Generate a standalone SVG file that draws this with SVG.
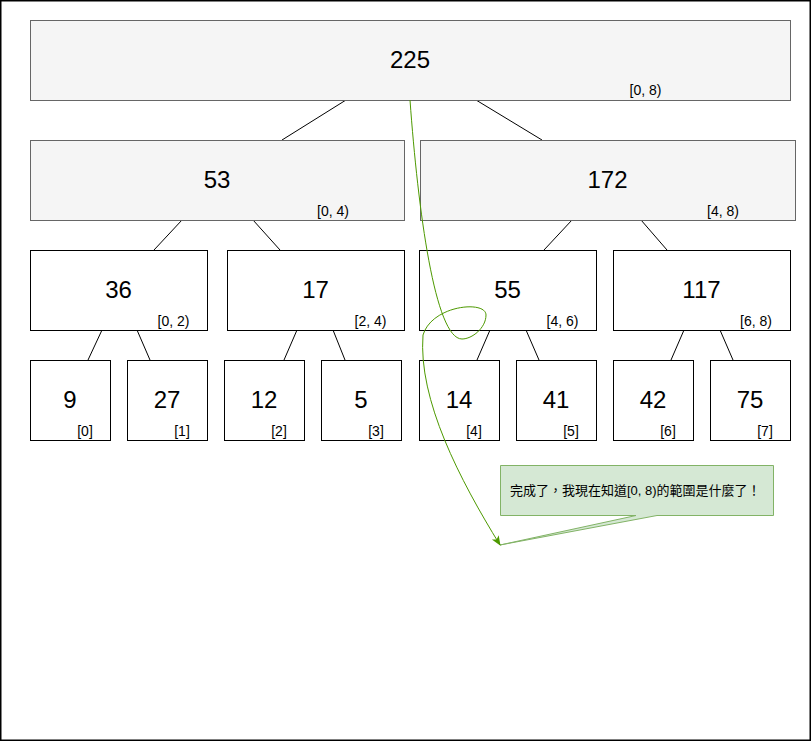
<svg xmlns="http://www.w3.org/2000/svg" width="811" height="741" viewBox="0 0 811 741">
<style>
.gray{fill:#f5f5f5;stroke:#666666;stroke-width:1}
.white{fill:#ffffff;stroke:#000000;stroke-width:1}
.num{font-family:"Liberation Sans",Arial,sans-serif;font-size:24px;fill:#000;text-anchor:middle}
.rng{font-family:"Liberation Sans",Arial,sans-serif;font-size:14px;fill:#000;text-anchor:middle}
.edge{stroke:#000;stroke-width:1;fill:none}
.note{font-family:"Liberation Sans","Noto Sans CJK TC",sans-serif;font-size:13px;fill:#000}
</style>
<defs>
<marker id="arr" viewBox="0 0 10 10" refX="9" refY="5" markerWidth="10" markerHeight="10" markerUnits="userSpaceOnUse" orient="auto">
<path d="M0,1 L10,5 L0,9 L2.5,5 Z" fill="#4d9900"/>
</marker>
</defs>
<rect x="0.75" y="0.75" width="809.5" height="739.5" fill="#ffffff" stroke="#000" stroke-width="1.5"/>
<g id="connectors">
<line class="edge" x1="346" y1="100" x2="282" y2="140"/>
<line class="edge" x1="476" y1="100" x2="542" y2="140"/>
<line class="edge" x1="182" y1="220" x2="154" y2="250"/>
<line class="edge" x1="253" y1="220" x2="280" y2="250"/>
<line class="edge" x1="572" y1="220" x2="544" y2="250"/>
<line class="edge" x1="641" y1="220" x2="667" y2="250"/>
<line class="edge" x1="102" y1="330" x2="88" y2="360"/>
<line class="edge" x1="137" y1="330" x2="150" y2="360"/>
<line class="edge" x1="297" y1="330" x2="284" y2="360"/>
<line class="edge" x1="333" y1="330" x2="345" y2="360"/>
<line class="edge" x1="490" y1="330" x2="477" y2="360"/>
<line class="edge" x1="526" y1="330" x2="539" y2="360"/>
<line class="edge" x1="684" y1="330" x2="671" y2="360"/>
<line class="edge" x1="720" y1="330" x2="733" y2="360"/>
</g>
<g id="n225"><rect class="gray" x="30.5" y="20.5" width="760" height="80"/><text class="num" x="410" y="68">225</text><text class="rng" x="645.5" y="95">[0, 8)</text></g>
<g id="n53"><rect class="gray" x="30.5" y="140.5" width="374" height="80"/><text class="num" x="217" y="188">53</text><text class="rng" x="333" y="216">[0, 4)</text></g>
<g id="n172"><rect class="gray" x="420.5" y="140.5" width="375" height="80"/><text class="num" x="607.5" y="188">172</text><text class="rng" x="723" y="216">[4, 8)</text></g>
<g id="n36"><rect class="white" x="30.5" y="250.5" width="177" height="80"/><text class="num" x="118.5" y="298">36</text><text class="rng" x="173.5" y="326">[0, 2)</text></g>
<g id="n17"><rect class="white" x="227.5" y="250.5" width="177" height="80"/><text class="num" x="315.5" y="298">17</text><text class="rng" x="370.5" y="326">[2, 4)</text></g>
<g id="n55"><rect class="white" x="419.5" y="250.5" width="177" height="80"/><text class="num" x="507.5" y="298">55</text><text class="rng" x="562.5" y="326">[4, 6)</text></g>
<g id="n117"><rect class="white" x="613.5" y="250.5" width="177" height="80"/><text class="num" x="701.5" y="298">117</text><text class="rng" x="756" y="326">[6, 8)</text></g>
<g id="n9"><rect class="white" x="30.5" y="360.5" width="80" height="80"/><text class="num" x="70" y="408">9</text><text class="rng" x="85" y="436">[0]</text></g>
<g id="n27"><rect class="white" x="127.5" y="360.5" width="80" height="80"/><text class="num" x="167" y="408">27</text><text class="rng" x="182" y="436">[1]</text></g>
<g id="n12"><rect class="white" x="224.5" y="360.5" width="80" height="80"/><text class="num" x="264" y="408">12</text><text class="rng" x="279" y="436">[2]</text></g>
<g id="n5"><rect class="white" x="321.5" y="360.5" width="80" height="80"/><text class="num" x="361" y="408">5</text><text class="rng" x="376" y="436">[3]</text></g>
<g id="n14"><rect class="white" x="419.5" y="360.5" width="80" height="80"/><text class="num" x="459" y="408">14</text><text class="rng" x="474" y="436">[4]</text></g>
<g id="n41"><rect class="white" x="516.5" y="360.5" width="80" height="80"/><text class="num" x="556" y="408">41</text><text class="rng" x="571" y="436">[5]</text></g>
<g id="n42"><rect class="white" x="613.5" y="360.5" width="80" height="80"/><text class="num" x="653" y="408">42</text><text class="rng" x="668" y="436">[6]</text></g>
<g id="n75"><rect class="white" x="710.5" y="360.5" width="80" height="80"/><text class="num" x="750" y="408">75</text><text class="rng" x="765" y="436">[7]</text></g>
<g id="note">
<path d="M500.5,465.5 L773.5,465.5 L773.5,515.5 L657,515.5 L500,545 L636,515.5 L500.5,515.5 Z" fill="#d5e8d4" stroke="#82b366" stroke-width="1"/>
<text class="note" x="510" y="495">完成了，我現在知道[0, 8)的範圍是什麼了！</text>
</g>
<g id="flow">
<path d="M410,100 C418,210 435,339 462,339 C472,339 486,328 486,315 C486,300 432,305 423,335 C418,400 460,480 500,545" fill="none" stroke="#4d9900" stroke-width="1" marker-end="url(#arr)"/>
</g>
</svg>
